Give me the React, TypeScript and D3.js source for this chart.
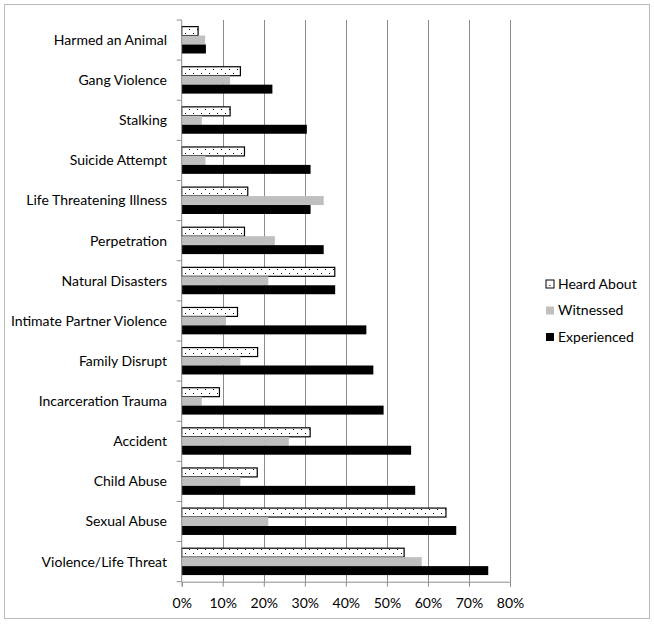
import React, { useEffect, useRef } from 'react'
import * as d3 from 'd3'

const categories = [
  'Harmed an Animal', 'Gang Violence', 'Stalking', 'Suicide Attempt',
  'Life Threatening Illness', 'Perpetration', 'Natural Disasters',
  'Intimate Partner Violence', 'Family Disrupt', 'Incarceration Trauma',
  'Accident', 'Child Abuse', 'Sexual Abuse', 'Violence/Life Threat',
]
const heardAbout = [4.0, 14.3, 11.8, 15.3, 16.1, 15.3, 37.3, 13.6, 18.5, 9.2, 31.3, 18.4, 64.4, 54.2]
const witnessed = [5.7, 11.8, 4.9, 5.8, 34.6, 22.7, 21.1, 10.8, 14.3, 4.9, 26.1, 14.3, 21.1, 58.5]
const experienced = [5.9, 22.1, 30.5, 31.4, 31.4, 34.6, 37.4, 45.0, 46.7, 49.2, 55.9, 56.9, 66.9, 74.7]
const seriesNames = ['Heard About', 'Witnessed', 'Experienced']
const xTicks = [0, 10, 20, 30, 40, 50, 60, 70, 80]

const App = () => {
  const svgRef = useRef<SVGSVGElement>(null)

  useEffect(() => {
    const w = 654
    const h = 624
    const svg = d3.select(svgRef.current)
    svg.selectAll('*').remove()
    svg.attr('width', w).attr('height', h)
      .style('font-family', 'Lato, "Open Sans", sans-serif')

    const defs = svg.append('defs')
    const pat = defs.append('pattern')
      .attr('id', 'dots').attr('patternUnits', 'userSpaceOnUse')
      .attr('width', 8).attr('height', 8)
    pat.append('rect').attr('width', 8).attr('height', 8).attr('fill', '#fff')
    pat.append('rect').attr('x', 1).attr('y', 1).attr('width', 1).attr('height', 1).attr('fill', '#000')
    pat.append('rect').attr('x', 5).attr('y', 5).attr('width', 1).attr('height', 1).attr('fill', '#000')

    const fills = ['url(#dots)', '#bfbfbf', '#000']
    const series = [heardAbout, witnessed, experienced]

    svg.append('rect')
      .attr('x', 4.5).attr('y', 4.5).attr('width', 645).attr('height', 614)
      .attr('fill', '#fff').attr('stroke', '#bcbcbc')

    const left = 181.7, right = 510, top = 20, bottom = 581.7
    const x = d3.scaleLinear().domain([0, 80]).range([left, right])
    const y = d3.scaleBand().domain(categories).range([top, bottom])
      .paddingInner(0.33).paddingOuter(0.165)
    const ySub = d3.scaleBand().domain(seriesNames).range([0, y.bandwidth()])

    // gridlines
    svg.append('g').selectAll('line').data(xTicks.slice(1)).join('line')
      .attr('x1', d => Math.round(x(d)) + 0.5).attr('x2', d => Math.round(x(d)) + 0.5)
      .attr('y1', top).attr('y2', bottom)
      .attr('stroke', '#8c8c8c')

    // bars
    series.forEach((vals, si) => {
      svg.append('g').selectAll('rect').data(vals).join('rect')
        .attr('x', left)
        .attr('y', (d, i) => (y(categories[i]) as number) + (ySub(seriesNames[si]) as number))
        .attr('width', d => x(d) - left)
        .attr('height', ySub.bandwidth())
        .attr('fill', fills[si])
        .attr('stroke', si === 0 ? '#000' : 'none')
        .attr('stroke-width', 1.2)
    })

    // x axis
    const xAxis = d3.axisBottom(x).tickValues(xTicks).tickSize(5).tickFormat(d => `${d}%`)
    const gx = svg.append('g').attr('transform', `translate(0,${bottom})`).call(xAxis)
    gx.select('.domain').attr('stroke', '#8c8c8c')
    gx.selectAll('.tick line').attr('stroke', '#8c8c8c')
    gx.selectAll('.tick text').attr('font-size', 14).attr('font-family', 'Lato, sans-serif')
      .attr('fill', '#000').attr('dy', '1.3em')

    // y axis
    const boundaries = categories.map(c => (y(c) as number) - y.step() * 0.165)
    boundaries.push(bottom)
    const gy = svg.append('g')
    gy.append('line').attr('x1', left).attr('x2', left).attr('y1', top).attr('y2', bottom)
      .attr('stroke', '#8c8c8c')
    gy.selectAll('line.t').data(boundaries).join('line').attr('class', 't')
      .attr('x1', left - 5).attr('x2', left).attr('y1', d => d).attr('y2', d => d)
      .attr('stroke', '#8c8c8c')
    gy.selectAll('text').data(categories).join('text')
      .attr('x', 167)
      .attr('y', c => (y(c) as number) + y.bandwidth() / 2)
      .attr('dy', '0.35em')
      .attr('text-anchor', 'end')
      .attr('font-size', 14)
      .text(c => c)

    // legend
    const lg = svg.append('g').attr('transform', 'translate(546,284)')
    const rows = lg.selectAll('g').data(seriesNames).join('g')
      .attr('transform', (d, i) => `translate(0,${i * 26.5})`)
    rows.append('rect').attr('x', 0).attr('y', -4).attr('width', 8).attr('height', 8)
      .attr('fill', (d, i) => (i === 0 ? '#fff' : fills[i]))
      .attr('stroke', (d, i) => (i === 0 ? '#000' : 'none'))
    rows.filter((d, i) => i === 0).append('rect')
      .attr('x', 3.5).attr('y', 1).attr('width', 1).attr('height', 1).attr('fill', '#000')
    rows.append('text').attr('x', 12).attr('y', 0).attr('dy', '0.35em')
      .attr('font-size', 14).text(d => d)
  }, [])

  return (
    <div>
      <svg ref={svgRef} style={{ position: 'absolute', left: 0, top: 0 }} />
    </div>
  )
}

export default App
